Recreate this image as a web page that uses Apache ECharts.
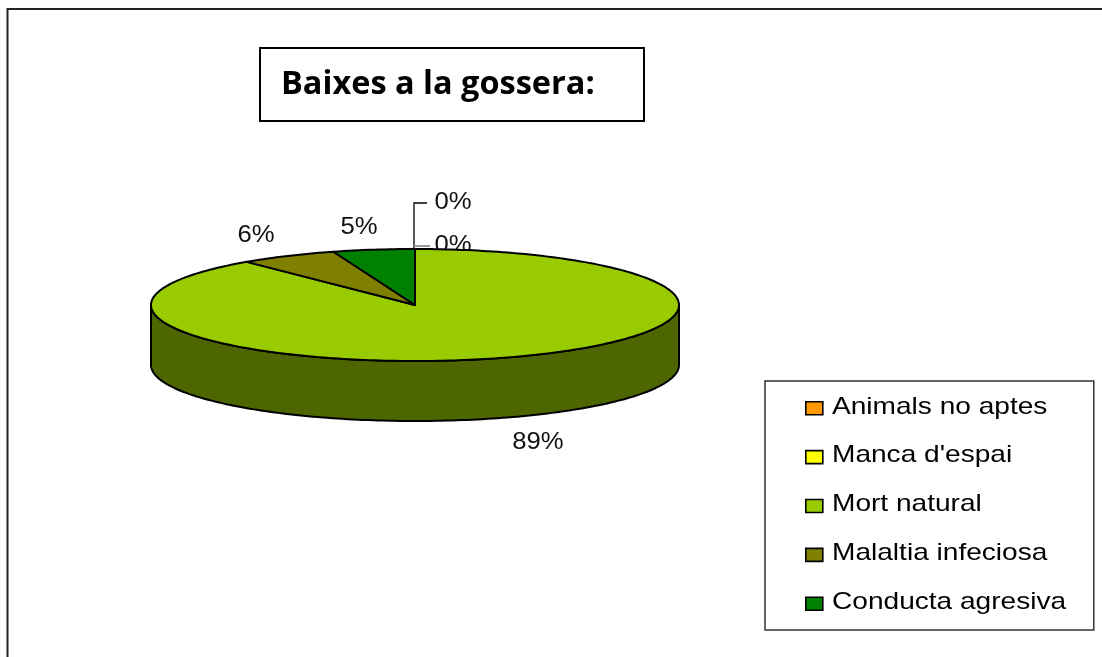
<!DOCTYPE html>
<html><head><meta charset="utf-8">
<style>html,body{margin:0;padding:0;background:#fff}#c{width:1102px;height:657px}</style>
<script src="https://cdn.jsdelivr.net/npm/echarts@6/dist/echarts.min.js"></script>
</head><body><div id="c"></div>
<script>
const categories = ["Animals no aptes", "Manca d'espai", "Mort natural", "Malaltia infeciosa", "Conducta agresiva"];
const values = [0, 0, 89, 6, 5];
const colors = ["#FF9900", "#FFFF00", "#99CC00", "#808000", "#008000"];
const sideColors = ["#804d00", "#808000", "#4d6600", "#404000", "#004000"];
const titleText = "Baixes a la gossera:";

const CX = 415, CY = 305, RX = 264, RY = 56, DEPTH = 60;
const total = values.reduce((a, b) => a + b, 0);
const starts = []; { let acc = 0; values.forEach(v => { starts.push(acc / total * Math.PI * 2); acc += v; }); }
const pt = (t, dy) => [CX + RX * Math.sin(t), CY + (dy || 0) - RY * Math.cos(t)];
const arc = (a, b, dy) => { const n = Math.max(1, Math.ceil((b - a) / 0.02)), out = [];
  for (let i = 0; i <= n; i++) out.push(pt(a + (b - a) * i / n, dy)); return out; };
const labelPos = [[453, 202], [453, 245], [538, 442], [256, 235], [359, 227]];
const stroke = { stroke: '#000', lineWidth: 2, lineJoin: 'round' };

function renderItem(idx) { return function (params, api) {
  const a = starts[idx], b = a + values[idx] / total * Math.PI * 2;
  const children = [];
  if (values[idx] > 0) {
    const lo = Math.max(a, Math.PI / 2), hi = Math.min(b, Math.PI * 1.5);
    if (hi > lo) children.push({ type: 'polygon', z2: 1,
      shape: { points: arc(lo, hi, 0).concat(arc(lo, hi, DEPTH).reverse()) },
      style: Object.assign({ fill: sideColors[idx] }, stroke) });
    children.push({ type: 'polygon', z2: 2,
      shape: { points: [[CX, CY]].concat(arc(a, b, 0)) },
      style: Object.assign({ fill: api.visual('color') }, stroke) });
  } else {
    const yy = labelPos[idx][1] + 1;
    const endX = labelPos[idx][0] - (idx === 0 ? 26 : 23);
    children.push({ type: 'polyline', z2: 3,
      shape: { points: idx === 0 ? [[CX - 1, CY - RY], [CX - 1, yy], [endX, yy]] : [[CX - 1, yy], [endX, yy]] },
      style: { stroke: idx === 0 ? '#000' : '#999', lineWidth: idx === 0 ? 1.3 : 2, fill: null } });
  }
  children.push({ type: 'text', z2: 4, x: labelPos[idx][0], y: labelPos[idx][1], scaleX: 1.07, style: {
    text: Math.round(values[idx] / total * 100) + '%', x: 0, y: 0,
    align: 'center', verticalAlign: 'middle', fill: '#111', font: '24px "Liberation Sans"' } });
  return { type: 'group', children };
}; }

const legendTexts = categories.map((name, i) => ({
  type: 'text', x: 832, y: 407 + i * 48.75, scaleX: 1.17, silent: true, z: 20,
  style: { text: name, x: 0, y: 0, verticalAlign: 'middle', fill: '#000', font: '24px "Liberation Sans"' }
}));

const chart = echarts.init(document.getElementById('c'), null, { renderer: 'canvas' });
chart.setOption({
  animation: false,
  backgroundColor: '#fff',
  legend: { orient: 'vertical', left: 765, top: 381,
    padding: [20, 266, 19, 40], borderColor: '#333', borderWidth: 1.5, backgroundColor: '#fff',
    icon: 'rect', itemWidth: 17, itemHeight: 13, itemGap: 34.25, selectedMode: false,
    itemStyle: { borderColor: '#000', borderWidth: 1.6 },
    formatter: () => '',
    textStyle: { fontSize: 1, lineHeight: 1 },
    data: categories },
  graphic: [
    { type: 'polyline', shape: { points: [[7.5, 657], [7.5, 9], [1102, 9]] }, style: { fill: null, stroke: '#222', lineWidth: 2 }, silent: true, z: -10 },
    { type: 'rect', shape: { x: 260, y: 48, width: 384, height: 73 }, style: { fill: '#fff', stroke: '#000', lineWidth: 2 }, silent: true },
    { type: 'text', style: { text: titleText, x: 281, y: 85, verticalAlign: 'middle', fill: '#000', font: 'bold 32.5px "Open Sans"' }, silent: true }
  ].concat(legendTexts),
  series: categories.map((name, i) => ({
    type: 'custom', name, coordinateSystem: 'none', silent: true, z: 2 + i,
    itemStyle: { color: colors[i] }, renderItem: renderItem(i), data: [values[i]]
  }))
});
</script></body></html>
